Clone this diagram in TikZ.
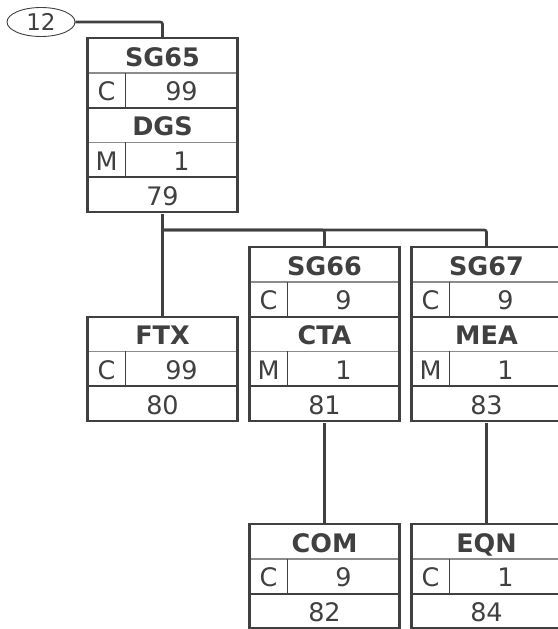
\documentclass[tikz,border=0pt]{standalone}
\usepackage{fontspec}
\setmainfont{DejaVu Sans}
\usetikzlibrary{positioning,shapes.geometric}

\definecolor{ink}{HTML}{404040}
\definecolor{rule}{HTML}{8C8C8C}

% one segment: tag row, status/repeat row, number row
\newcommand{\segment}[6]{%
  \node[tagcell, anchor=north] (#1) at (#2) {#3};
  \node[stcell, anchor=north west] (#1-st) at (#1.south west) {#4};
  \node[rpcell, anchor=north west] (#1-rp) at (#1-st.north east) {#5};
  \node[numcell, anchor=north west] (#1-num) at (#1-st.south west) {#6};
  \draw[divider] (#1-st.north east) -- (#1-st.south east);
  \draw[divider] (#1-st.south west) -- (#1-rp.south east);
  \draw[frame] (#1.north west) rectangle (#1-num.south east);
}
% group head: tag row and status/repeat row
\newcommand{\grouphead}[5]{%
  \node[tagcell, anchor=north] (#1) at (#2) {#3};
  \node[stcell, anchor=north west] (#1-st) at (#1.south west) {#4};
  \node[rpcell, anchor=north west] (#1-rp) at (#1-st.north east) {#5};
  \draw[divider] (#1-st.north east) -- (#1-st.south east);
  \draw[frame] (#1.north west) rectangle (#1-rp.south east);
}

\begin{document}
\begin{tikzpicture}[x=1pt,y=-1pt,
    cell/.style={draw=rule,line width=1.6pt,inner sep=0pt,outer sep=0pt,
      minimum height=34.8pt,text height=21.5pt,text depth=0pt,text=ink,
      font=\fontsize{25.5}{25.5}\selectfont},
    tagcell/.style={cell,minimum width=150pt,font=\fontsize{25.5}{25.5}\selectfont\bfseries},
    stcell/.style={cell,minimum width=38pt},
    rpcell/.style={cell,minimum width=112pt},
    numcell/.style={cell,minimum width=150pt},
    divider/.style={draw=ink,line width=1.8pt},
    frame/.style={draw=ink,line width=2.2pt},
    link/.style={draw=ink,line width=2.6pt,rounded corners=2pt}]
  \useasboundingbox (0,0) rectangle (557,629);

  \node[draw=ink,ellipse,line width=0.9pt,minimum width=68pt,minimum height=29pt,
        inner sep=0pt,text=ink,font=\fontsize{23}{23}\selectfont] (ref12) at (41,22) {12};

  \grouphead{sg65}{162.5,38}{SG65}{C}{99}
  \segment{dgs}{sg65-st.south -| sg65}{DGS}{M}{1}{79}
  \draw[frame] (sg65.north west) rectangle (dgs-num.south east);

  \segment{ftx}{162.5,316.6}{FTX}{C}{99}{80}

  \grouphead{sg66}{324.5,247}{SG66}{C}{9}
  \segment{cta}{sg66-st.south -| sg66}{CTA}{M}{1}{81}
  \draw[frame] (sg66.north west) rectangle (cta-num.south east);

  \grouphead{sg67}{486.5,247}{SG67}{C}{9}
  \segment{mea}{sg67-st.south -| sg67}{MEA}{M}{1}{83}
  \draw[frame] (sg67.north west) rectangle (mea-num.south east);

  \segment{com}{324.5,524}{COM}{C}{9}{82}
  \segment{eqn}{486.5,524}{EQN}{C}{1}{84}

  % connectors
  \coordinate[below=18pt of dgs-num.south] (bus);
  \draw[link] (ref12.east) -| (sg65.north);
  \draw[link] ([yshift=-2pt]dgs-num.south) -- (ftx.north);
  \draw[link] (bus) -| (sg66.north);
  \draw[link] (bus) -| (sg67.north);
  \draw[link] ([yshift=-2pt]cta-num.south) -- (com.north);
  \draw[link] ([yshift=-2pt]mea-num.south) -- (eqn.north);
\end{tikzpicture}
\end{document}
